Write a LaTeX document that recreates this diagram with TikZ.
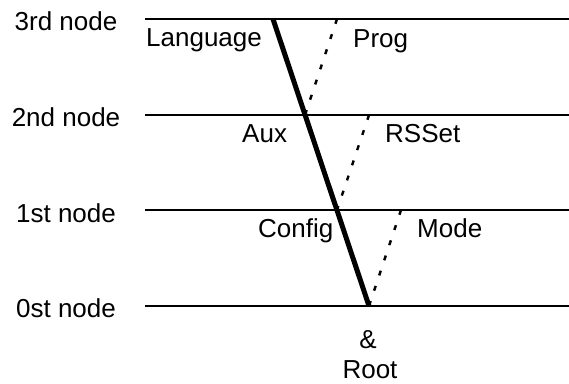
\documentclass[tikz,border=0pt]{standalone}
\usepackage{fontspec}
\setmainfont{Liberation Sans}
\begin{document}
\begin{tikzpicture}[x=1bp,y=-1bp,
  lbl/.style={inner sep=0pt,font=\fontsize{26bp}{30bp}\selectfont},
  level/.style={line width=2.3bp},
  chain/.style={line width=5bp},
  aux/.style={line width=2.4bp,dash pattern=on 5bp off 11bp}]
\useasboundingbox (0,0) rectangle (569,383);
% horizontal level lines
\foreach \n/\y in {3/19,2/115,1/210,0/306}{
  \coordinate (L\n) at (145,\y);
  \coordinate (R\n) at (569,\y);
  \draw[level] (L\n) -- (R\n);
}
% thick chain points
\coordinate (T3) at (273,19);
\coordinate (T2) at (305,115);
\coordinate (T1) at (337,210);
\coordinate (T0) at (369,306);
% dotted upper points
\coordinate (D3) at (337,19);
\coordinate (D2) at (369,115);
\coordinate (D1) at (401,210);
\draw[chain] (T3) -- (T0);
\draw[aux] (D3) -- (T2);
\draw[aux] (D2) -- (T1);
\draw[aux] (D1) -- (T0);
% left labels
\node[lbl,anchor=base] (n3) at (66,30) {3rd node};
\node[lbl,anchor=base] (n2) at (66,126) {2nd node};
\node[lbl,anchor=base] (n1) at (66,222) {1st node};
\node[lbl,anchor=base] (n0) at (66,317) {0st node};
% region labels
\node[lbl,anchor=base west] (lang) at (146,46) {Language};
\node[lbl,anchor=base west] (prog) at (353,47) {Prog};
\node[lbl,anchor=base west] (aux) at (242,142) {Aux};
\node[lbl,anchor=base west] (rsset) at (385,142) {RSSet};
\node[lbl,anchor=base west] (config) at (258,237) {Config};
\node[lbl,anchor=base west] (mode) at (417,237) {Mode};
\node[lbl,anchor=base] (amp) at (368,348) {\&};
\node[lbl,anchor=base] (root) at (370,378) {Root};
\end{tikzpicture}
\end{document}
